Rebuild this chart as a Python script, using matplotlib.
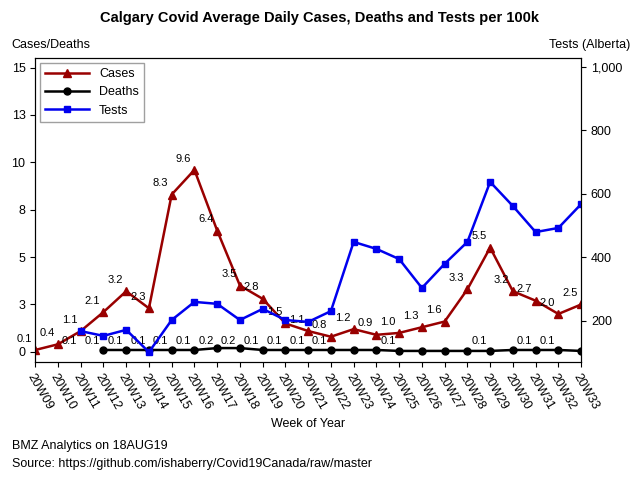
import numpy as np
import matplotlib
matplotlib.use("Agg")
import matplotlib.pyplot as plt

plt.rcParams["font.family"] = ["Liberation Sans", "DejaVu Sans"]

weeks = ["20W%02d" % w for w in range(9, 34)]
cases = [0.1, 0.4, 1.1, 2.1, 3.2, 2.3, 8.3, 9.6, 6.4, 3.5, 2.8, 1.5, 1.1, 0.8, 1.2,
         0.9, 1.0, 1.3, 1.6, 3.3, 5.5, 3.2, 2.7, 2.0, 2.5]
deaths = [None, None, None, 0.1, 0.1, 0.1, 0.1, 0.1, 0.2, 0.2, 0.1, 0.1, 0.1, 0.1, 0.1,
          0.1, 0.05, 0.05, 0.05, 0.05, 0.05, 0.1, 0.1, 0.1, 0.05]
tests = [None, None, 168, 153, 172, 102, 203, 260, 254, 203, 238, 203, 197, 231, 449,
         427, 395, 304, 380, 449, 638, 562, 480, 493, 568]
death_labels = {2: "0.1", 3: "0.1", 4: "0.1", 5: "0.1", 6: "0.1", 7: "0.1", 8: "0.2",
                9: "0.2", 10: "0.1", 11: "0.1", 12: "0.1", 13: "0.1", 16: "0.1",
                20: "0.1", 22: "0.1", 23: "0.1"}

x = np.arange(len(weeks))
dark_red = "#990000"

fig = plt.figure(figsize=(6.4, 4.8), dpi=100)
ax = fig.add_axes([0.055, 0.246, 0.853, 0.633])
ax2 = ax.twinx()

c_line, = ax.plot(x, cases, color=dark_red, lw=1.8, marker="^", ms=6, label="Cases")
dx = [i for i, v in enumerate(deaths) if v is not None]
d_line, = ax.plot(dx, [deaths[i] for i in dx], color="black", lw=1.8, marker="o", ms=5, label="Deaths")
tx = [i for i, v in enumerate(tests) if v is not None]
t_line, = ax2.plot(tx, [tests[i] for i in tx], color="#0000ee", lw=1.8, marker="s", ms=5, label="Tests")

for i, v in enumerate(cases):
    ax.annotate("%.1f" % v, (x[i], v), xytext=(-8, 6), textcoords="offset points",
                fontsize=8, ha="center")
for i, s in death_labels.items():
    ax.annotate(s, (x[i], 0.1), xytext=(-8, 4), textcoords="offset points",
                fontsize=8, ha="center")

ax.set_xlim(0, len(weeks) - 1)
ax.set_ylim(-0.53, 15.5)
ax.set_yticks(np.arange(0, 15.1, 2.5))
ax.set_yticklabels(["0", "3", "5", "8", "10", "13", "15"])
ax2.set_ylim(71, 1028)
ax2.set_yticks([200, 400, 600, 800, 1000])
ax2.set_yticklabels(["200", "400", "600", "800", "1,000"])
ax.set_xticks(x)
ax.set_xticklabels(weeks, rotation=-60, ha="left", rotation_mode="anchor", fontsize=9)
ax.tick_params(labelsize=9)
ax2.tick_params(labelsize=9)
ax.set_xlabel("Week of Year", fontsize=9)

fig.text(0.5, 0.955, "Calgary Covid Average Daily Cases, Deaths and Tests per 100k",
         ha="center", fontsize=10.5, fontweight="bold")
fig.text(0.018, 0.9, "Cases/Deaths", fontsize=9)
fig.text(0.985, 0.9, "Tests (Alberta)", fontsize=9, ha="right")
fig.text(0.018, 0.065, "BMZ Analytics on 18AUG19", fontsize=9)
fig.text(0.018, 0.027, "Source: https://github.com/ishaberry/Covid19Canada/raw/master", fontsize=9)

ax.legend(handles=[c_line, d_line, t_line], loc="upper left", fontsize=9,
          fancybox=False, edgecolor="#888888", handlelength=3.5, borderaxespad=0.4)

fig.savefig("out.png", dpi=100)
